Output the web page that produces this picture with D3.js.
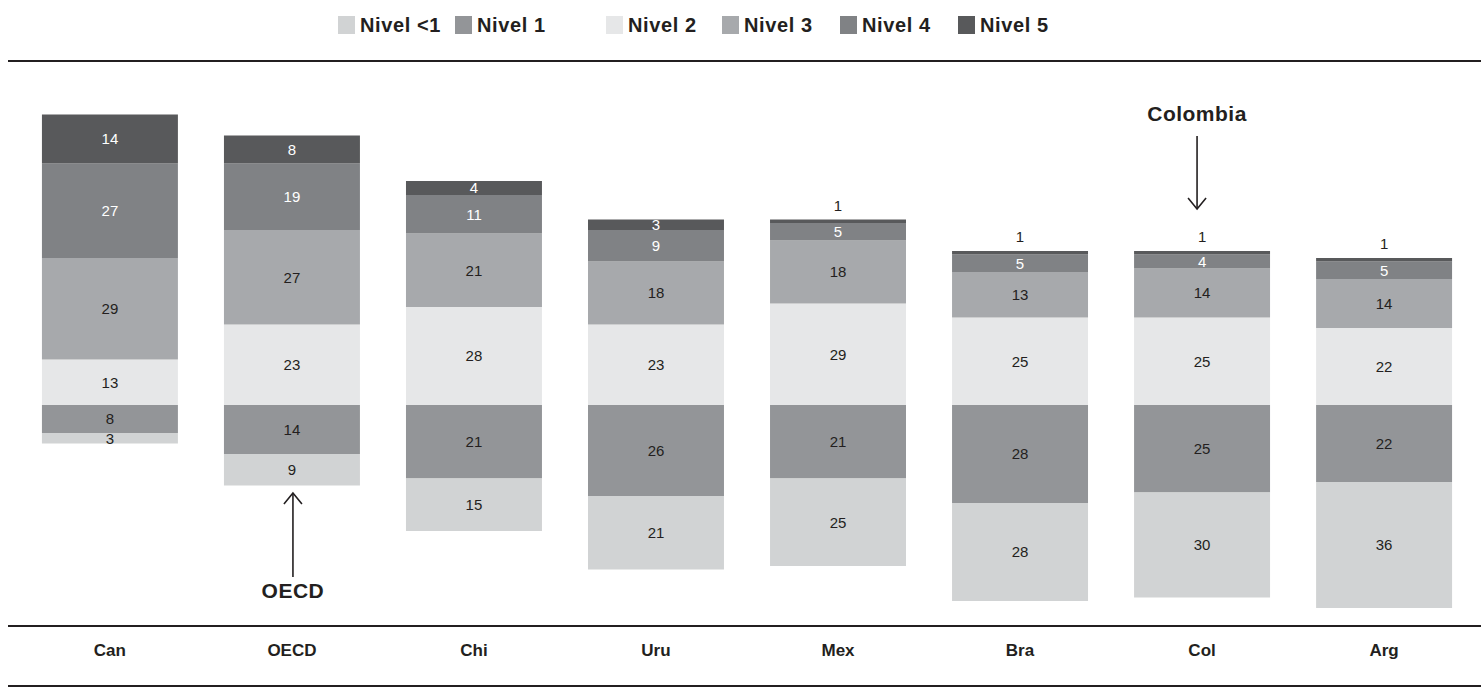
<!DOCTYPE html>
<html>
<head>
<meta charset="utf-8">
<script src="https://cdn.jsdelivr.net/npm/d3@7"></script>
<style>
  html, body { margin: 0; padding: 0; background: #fff; }
  svg { display: block; font-family: "Liberation Sans", Arial, sans-serif; }
  .val { font-size: 15px; }
  .cat { font-size: 17px; font-weight: bold; fill: #231f20; }
  .legend-text { font-size: 20px; font-weight: bold; fill: #231f20; letter-spacing: 0.6px; }
  .note { font-size: 21px; font-weight: bold; fill: #231f20; letter-spacing: 0.5px; }
</style>
</head>
<body>
<div id="chart"></div>
<script>
const countries = ["Can", "OECD", "Chi", "Uru", "Mex", "Bra", "Col", "Arg"];
const levelNames = ["Nivel <1", "Nivel 1", "Nivel 2", "Nivel 3", "Nivel 4", "Nivel 5"];
const nivelMenos1 = [3, 9, 15, 21, 25, 28, 30, 36];
const nivel1 = [8, 14, 21, 26, 21, 28, 25, 22];
const nivel2 = [13, 23, 28, 23, 29, 25, 25, 22];
const nivel3 = [29, 27, 21, 18, 18, 13, 14, 14];
const nivel4 = [27, 19, 11, 9, 5, 5, 4, 5];
const nivel5 = [14, 8, 4, 3, 1, 1, 1, 1];

const colors = {
  "Nivel <1": "#d1d3d4",
  "Nivel 1": "#939598",
  "Nivel 2": "#e6e7e8",
  "Nivel 3": "#a7a9ac",
  "Nivel 4": "#808285",
  "Nivel 5": "#58595b"
};
const whiteText = new Set(["Nivel 4", "Nivel 5"]);

const width = 1481, height = 689;
const svg = d3.select("#chart").append("svg")
  .attr("width", width)
  .attr("height", height);

const x = d3.scaleBand()
  .domain(countries)
  .range([19, 1475])
  .paddingInner(0.253)
  .paddingOuter(0.126);

// zero sits on the Nivel 1 / Nivel 2 boundary
const y = d3.scaleLinear()
  .domain([-58, 90])
  .range([608, 90]);

// levels 2..5 stack upward, 1 and <1 stack downward
const up = [["Nivel 2", nivel2], ["Nivel 3", nivel3], ["Nivel 4", nivel4], ["Nivel 5", nivel5]];
const down = [["Nivel 1", nivel1], ["Nivel <1", nivelMenos1]];
const segments = [];
countries.forEach((c, i) => {
  let top = 0;
  up.forEach(([name, vals]) => {
    segments.push({ country: c, level: name, value: vals[i], y0: top, y1: top + vals[i] });
    top += vals[i];
  });
  let bottom = 0;
  down.forEach(([name, vals]) => {
    segments.push({ country: c, level: name, value: vals[i], y0: bottom - vals[i], y1: bottom });
    bottom -= vals[i];
  });
});

// frame lines
[61, 626, 686].forEach(ly => {
  svg.append("line").attr("x1", 8).attr("x2", width).attr("y1", ly).attr("y2", ly)
    .attr("stroke", "#231f20").attr("stroke-width", 2);
});

// bars
svg.append("g")
  .selectAll("rect")
  .data(segments)
  .join("rect")
  .attr("x", d => x(d.country))
  .attr("width", x.bandwidth())
  .attr("y", d => y(d.y1))
  .attr("height", d => y(d.y0) - y(d.y1))
  .attr("fill", d => colors[d.level]);

// value labels (a 1 sits above the bar)
svg.append("g")
  .selectAll("text")
  .data(segments)
  .join("text")
  .attr("class", "val")
  .attr("text-anchor", "middle")
  .attr("x", d => x(d.country) + x.bandwidth() / 2)
  .attr("y", d => d.value <= 1 ? y(d.y1) - 14 : (y(d.y0) + y(d.y1)) / 2)
  .attr("dy", "0.35em")
  .attr("fill", d => d.value <= 1 ? "#231f20" : whiteText.has(d.level) ? "#fff" : "#231f20")
  .text(d => d.value);

// category labels
svg.append("g")
  .selectAll("text")
  .data(countries)
  .join("text")
  .attr("class", "cat")
  .attr("text-anchor", "middle")
  .attr("x", d => x(d) + x.bandwidth() / 2)
  .attr("y", 656)
  .text(d => d);

// legend
const legendX = [338, 455, 606, 722, 840, 958];
const legend = svg.append("g")
  .selectAll("g")
  .data(levelNames)
  .join("g")
  .attr("transform", (d, i) => `translate(${legendX[i]},16)`);
legend.append("rect")
  .attr("width", 17).attr("height", 18)
  .attr("fill", d => colors[d]);
legend.append("text")
  .attr("class", "legend-text")
  .attr("x", 22).attr("y", 16)
  .text(d => d);

// annotations
const arrowHead = (g, cx, cy, dir) => {
  g.append("path")
    .attr("d", `M${cx - 9},${cy - dir * 11}L${cx},${cy}L${cx + 9},${cy - dir * 11}`)
    .attr("fill", "none").attr("stroke", "#231f20").attr("stroke-width", 1.6);
};
const ann = svg.append("g");
const colX = x("Col") + x.bandwidth() / 2 - 5;
ann.append("text").attr("class", "note").attr("text-anchor", "middle")
  .attr("x", colX).attr("y", 121).text("Colombia");
ann.append("line").attr("x1", colX).attr("x2", colX).attr("y1", 136).attr("y2", 209)
  .attr("stroke", "#231f20").attr("stroke-width", 1.6);
arrowHead(ann, colX, 209, 1);

const oecdX = x("OECD") + x.bandwidth() / 2 + 1;
ann.append("text").attr("class", "note").attr("text-anchor", "middle")
  .attr("x", oecdX).attr("y", 598).text("OECD");
ann.append("line").attr("x1", oecdX).attr("x2", oecdX).attr("y1", 577).attr("y2", 493)
  .attr("stroke", "#231f20").attr("stroke-width", 1.6);
arrowHead(ann, oecdX, 493, -1);
</script>
</body>
</html>
